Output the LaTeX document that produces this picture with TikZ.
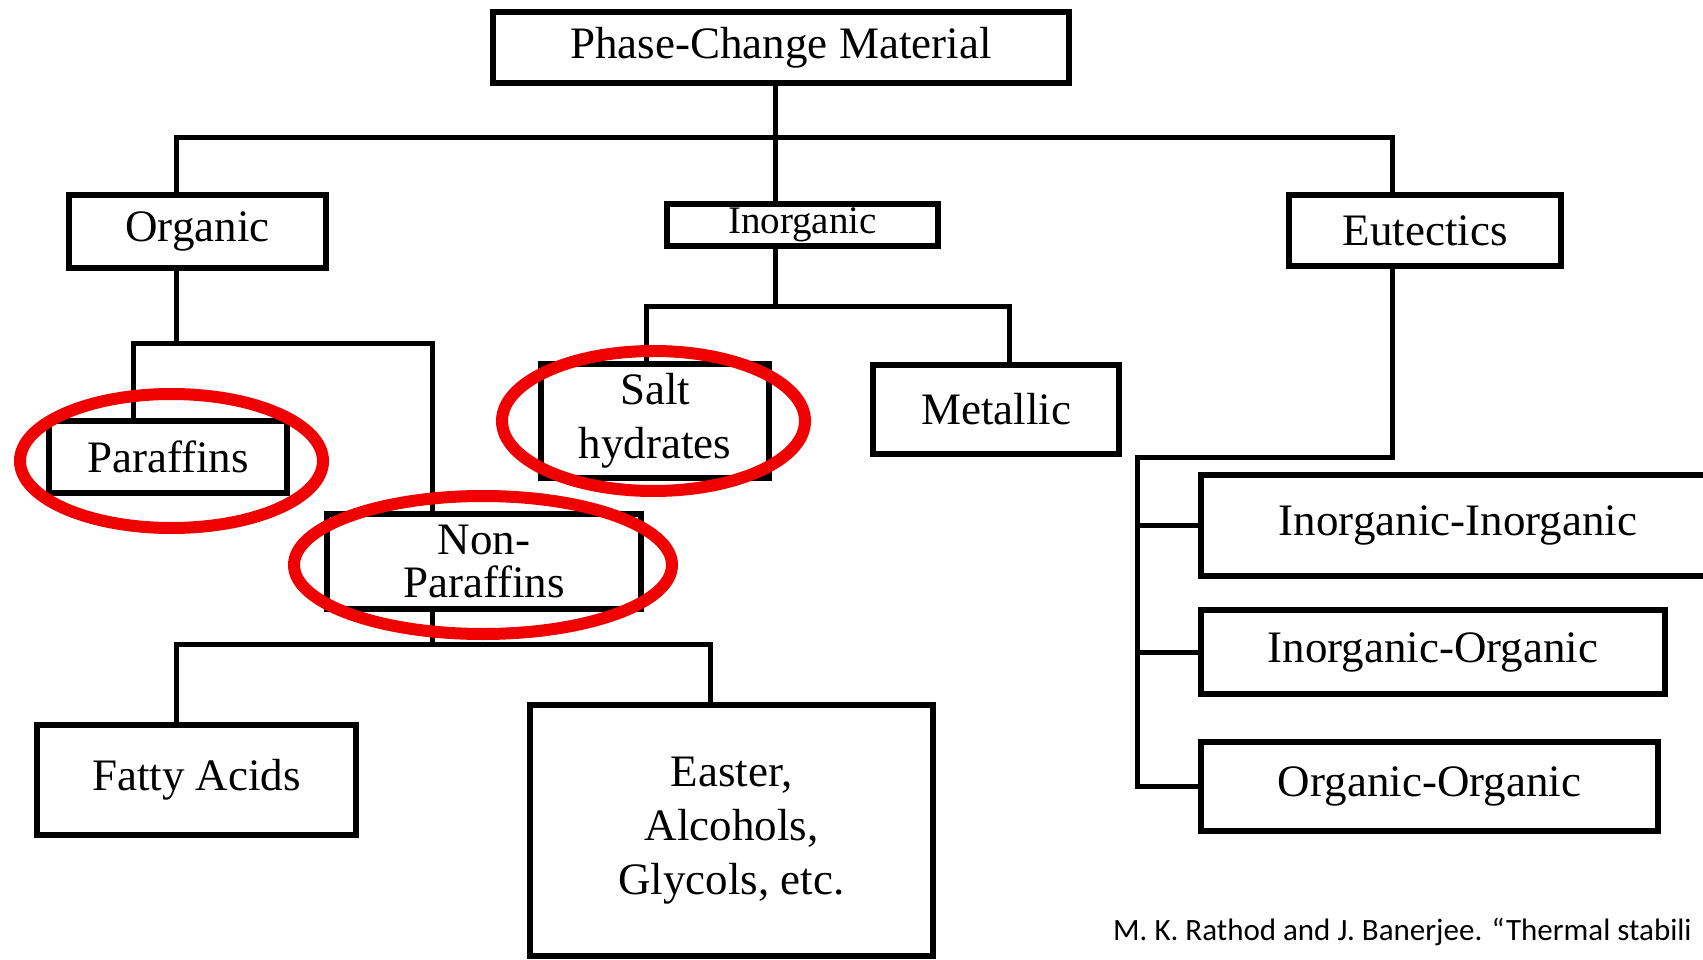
\documentclass[tikz,border=0pt]{standalone}
\usepackage{fontspec}
\setmainfont{Liberation Serif}
\newfontfamily\citefont{Carlito}
\definecolor{mark}{RGB}{240,0,0}
\tikzset{
  box/.style={draw, line width=5.5pt, inner sep=0pt, align=center, font=\fontsize{45}{54}\selectfont},
  conn/.style={line width=5pt, line join=miter},
  ring/.style={draw=mark, line width=12pt}
}
\begin{document}
\begin{tikzpicture}[x=1pt,y=-1pt]
\useasboundingbox (0,0) rectangle (1703,960);
\clip (0,0) rectangle (1703,960);
\fill[white] (0,0) rectangle (1703,960);
% boxes
\node[box, minimum width=576pt, minimum height=71pt] (pcm) at (781,47.5) {Phase-Change Material};
\node[box, minimum width=257pt, minimum height=73pt] (org) at (197.5,231.5) {Organic};
\node[box, minimum width=271pt, minimum height=42pt, font=\fontsize{39}{46}\selectfont] (inorg) at (802.5,225) {\raisebox{-2pt}{Inorganic}};
\node[box, minimum width=272pt, minimum height=71pt] (eut) at (1425,230.5) {Eutectics};
\node[box, minimum width=238pt, minimum height=72pt] (par) at (168,457) {Paraffins};
\node[box, minimum width=228pt, minimum height=114pt] (salt) at (655,421) {Salt\\hydrates};
\node[box, minimum width=246pt, minimum height=89pt] (metal) at (996,409.5) {Metallic};
\node[box, minimum width=314pt, minimum height=95pt, font=\fontsize{45}{43}\selectfont] (nonp) at (484,561.5) {Non-\\Paraffins};
\node[box, minimum width=319pt, minimum height=110pt] (fatty) at (196.5,780) {Fatty Acids};
\node[box, minimum width=403pt, minimum height=251pt] (ester) at (731.5,830.5) {Easter,\\Alcohols,\\Glycols, etc.};
\node[box, minimum width=514pt, minimum height=101pt] (ii) at (1458,525.5) {Inorganic-Inorganic};
\node[box, minimum width=464pt, minimum height=84pt] (io) at (1433,652) {Inorganic-Organic};
\node[box, minimum width=457pt, minimum height=89pt] (oo) at (1429.5,786.5) {Organic-Organic};
% junction coordinates
\coordinate (b1) at (775,138);
\coordinate (b2) at (775,306);
\coordinate (b3) at (176,343);
\coordinate (b4) at (432,644);
\coordinate (b5) at (1137,457);
\coordinate (xo) at (176,0);
\coordinate (xe) at (1392,0);
\coordinate (xs) at (646,0);
\coordinate (xm) at (1009,0);
\coordinate (xp) at (133,0);
\coordinate (xf) at (176,0);
\coordinate (xa) at (710,0);
% connectors
\draw[conn] (pcm.south -| b1) -- (inorg.north -| b1);
\draw[conn] (org.north -| xo) |- (b1) -| (eut.north -| xe);
\draw[conn] (inorg.south -| b2) -- (b2);
\draw[conn] (salt.north -| xs) |- (b2) -| (metal.north -| xm);
\draw[conn] (org.south -| b3) -- (b3);
\draw[conn] (par.north -| xp) |- (b3) -| (nonp.north -| b4);
\draw[conn] (nonp.south -| b4) -- (b4);
\draw[conn] (fatty.north -| xf) |- (b4) -| (ester.north -| xa);
\draw[conn] (eut.south -| xe) |- (b5) |- (oo.west);
\draw[conn] (b5 |- ii.west) -- (ii.west);
\draw[conn] (b5 |- io.west) -- (io.west);
% red marks
\draw[ring] (171.5,461) ellipse [x radius=151.5pt, y radius=67pt];
\draw[ring] (653.5,421) ellipse [x radius=151.5pt, y radius=70pt];
\draw[ring] (483,565) ellipse [x radius=189pt, y radius=69pt];
% citation
\node[anchor=base west, inner sep=0pt, font=\citefont\fontsize{31}{37}\selectfont] (cite) at (1113,940) {M. K. Rathod and J. Banerjee. “Thermal stabili};
\end{tikzpicture}
\end{document}
